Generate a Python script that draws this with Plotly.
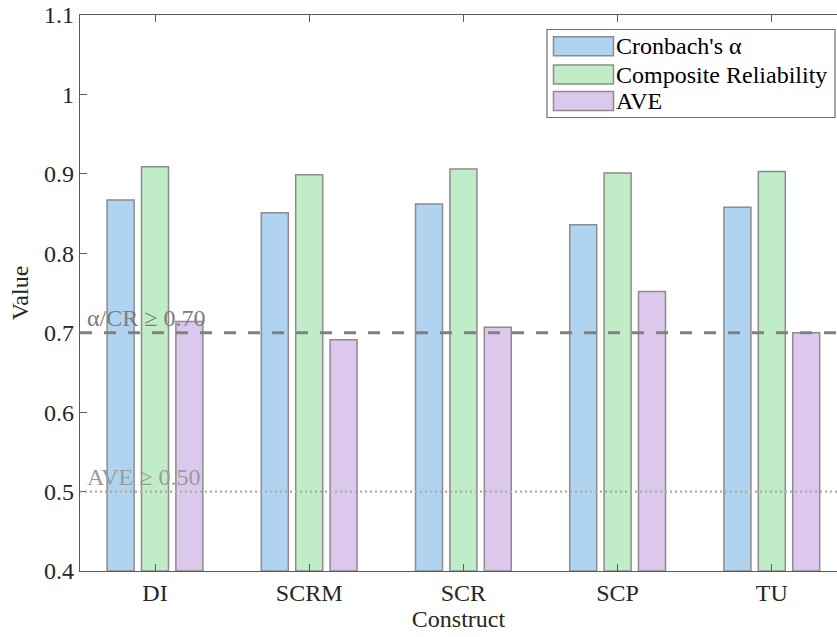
import plotly.graph_objects as go

constructs = ["DI", "SCRM", "SCR", "SCP", "TU"]
cronbach = [0.867, 0.851, 0.862, 0.836, 0.858]
composite = [0.909, 0.899, 0.906, 0.901, 0.903]
ave = [0.714, 0.691, 0.707, 0.752, 0.700]
series_names = ["Cronbach's α", "Composite Reliability", "AVE"]
thresholds = [0.70, 0.50]
threshold_labels = ["α/CR ≥ 0.70", "AVE ≥ 0.50"]
y_ticks = [0.4, 0.5, 0.6, 0.7, 0.8, 0.9, 1.0, 1.1]
y_tick_text = ["0.4", "0.5", "0.6", "0.7", "0.8", "0.9", "1", "1.1"]

fills = ["rgb(176,212,240)", "rgb(192,236,200)", "rgb(220,200,236)"]
edge = "rgb(140,140,140)"
FONT = "Liberation Serif"
FS = 24

W, H = 837, 637
# target plot area in page pixels: x 80..837, y 15..571
L, T, R = 80, 15, 0
B = H - 571
pw, ph = W - L - R, H - T - B

def px2paper_x(px):
    return (px - L) / pw

def px2paper_y(py):
    return (H - B - py) / ph

fig = go.Figure()
for name, vals, col in zip(series_names, [cronbach, composite, ave], fills):
    fig.add_trace(go.Bar(
        x=list(range(len(constructs))), y=[v - 0.4 for v in vals], base=0.4,
        name=name, marker=dict(color=col, line=dict(color=edge, width=1.5)),
        showlegend=False,
    ))

# threshold lines
fig.add_shape(type="line", xref="paper", yref="y", x0=0, x1=1, y0=thresholds[0], y1=thresholds[0],
              line=dict(color="rgb(128,128,128)", width=3, dash="12px,12px"), layer="above")
fig.add_shape(type="line", xref="paper", yref="y", x0=0, x1=1, y0=thresholds[1], y1=thresholds[1],
              line=dict(color="rgb(170,170,170)", width=2.2, dash="2px,3px"), layer="above")
fig.add_annotation(xref="paper", yref="y", x=px2paper_x(85), y=thresholds[0], text=threshold_labels[0],
                   showarrow=False, xanchor="left", yanchor="bottom", yshift=0,
                   font=dict(family=FONT, size=FS, color="rgb(125,125,125)"))
fig.add_annotation(xref="paper", yref="y", x=px2paper_x(85), y=thresholds[1], text=threshold_labels[1],
                   showarrow=False, xanchor="left", yanchor="bottom", yshift=0,
                   font=dict(family=FONT, size=FS, color="rgb(155,155,155)"))

# custom legend (MATLAB style)
fig.add_shape(type="rect", xref="paper", yref="paper",
              x0=px2paper_x(547), x1=px2paper_x(835), y0=px2paper_y(117.5), y1=px2paper_y(29.5),
              line=dict(color="rgb(110,110,110)", width=1.2), fillcolor="white", layer="above")
row_tops = [36.7, 65, 91.5]
for i, (name, col) in enumerate(zip(series_names, fills)):
    top = row_tops[i]
    fig.add_shape(type="rect", xref="paper", yref="paper",
                  x0=px2paper_x(553.5), x1=px2paper_x(613.5), y0=px2paper_y(top + 19), y1=px2paper_y(top),
                  line=dict(color=edge, width=1.5), fillcolor=col, layer="above")
    fig.add_annotation(xref="paper", yref="paper", x=px2paper_x(614), y=px2paper_y(top + 9.5),
                       text=name, showarrow=False, xanchor="left", yanchor="middle",
                       font=dict(family=FONT, size=FS, color="black"))

fig.update_layout(
    width=W, height=H,
    margin=dict(l=L, r=R, t=T, b=B, autoexpand=False),
    plot_bgcolor="white", paper_bgcolor="white",
    barmode="group", bargap=0.331, bargroupgap=0.215,
    font=dict(family=FONT, size=FS, color="rgb(38,38,38)"),
    xaxis=dict(
        range=[-75 / 154.2, -75 / 154.2 + pw / 154.2],
        tickmode="array", tickvals=list(range(len(constructs))), ticktext=constructs,
        ticks="inside", ticklen=7, tickcolor="rgb(90,90,90)", tickwidth=1,
        showline=True, linecolor="rgb(90,90,90)", linewidth=1.2, mirror="ticks",
        showgrid=False, zeroline=False, automargin=False,
        title=dict(text="Construct", standoff=5, font=dict(family=FONT, size=FS)),
        tickfont=dict(family=FONT, size=FS),
    ),
    yaxis=dict(
        range=[0.4, 1.1], tickmode="array", tickvals=y_ticks, ticktext=y_tick_text,
        ticks="inside", ticklen=7, tickcolor="rgb(90,90,90)", tickwidth=1,
        showline=True, linecolor="rgb(90,90,90)", linewidth=1.2, mirror=False,
        showgrid=False, zeroline=False, ticklabeloverflow="allow", automargin=False,
        title=dict(text="Value", standoff=8, font=dict(family=FONT, size=FS)),
        tickfont=dict(family=FONT, size=FS),
    ),
)

fig.write_html(
    "out.html",
    config={"displayModeBar": False},
    post_script="document.body.style.margin='0';document.body.style.overflow='hidden';",
)
